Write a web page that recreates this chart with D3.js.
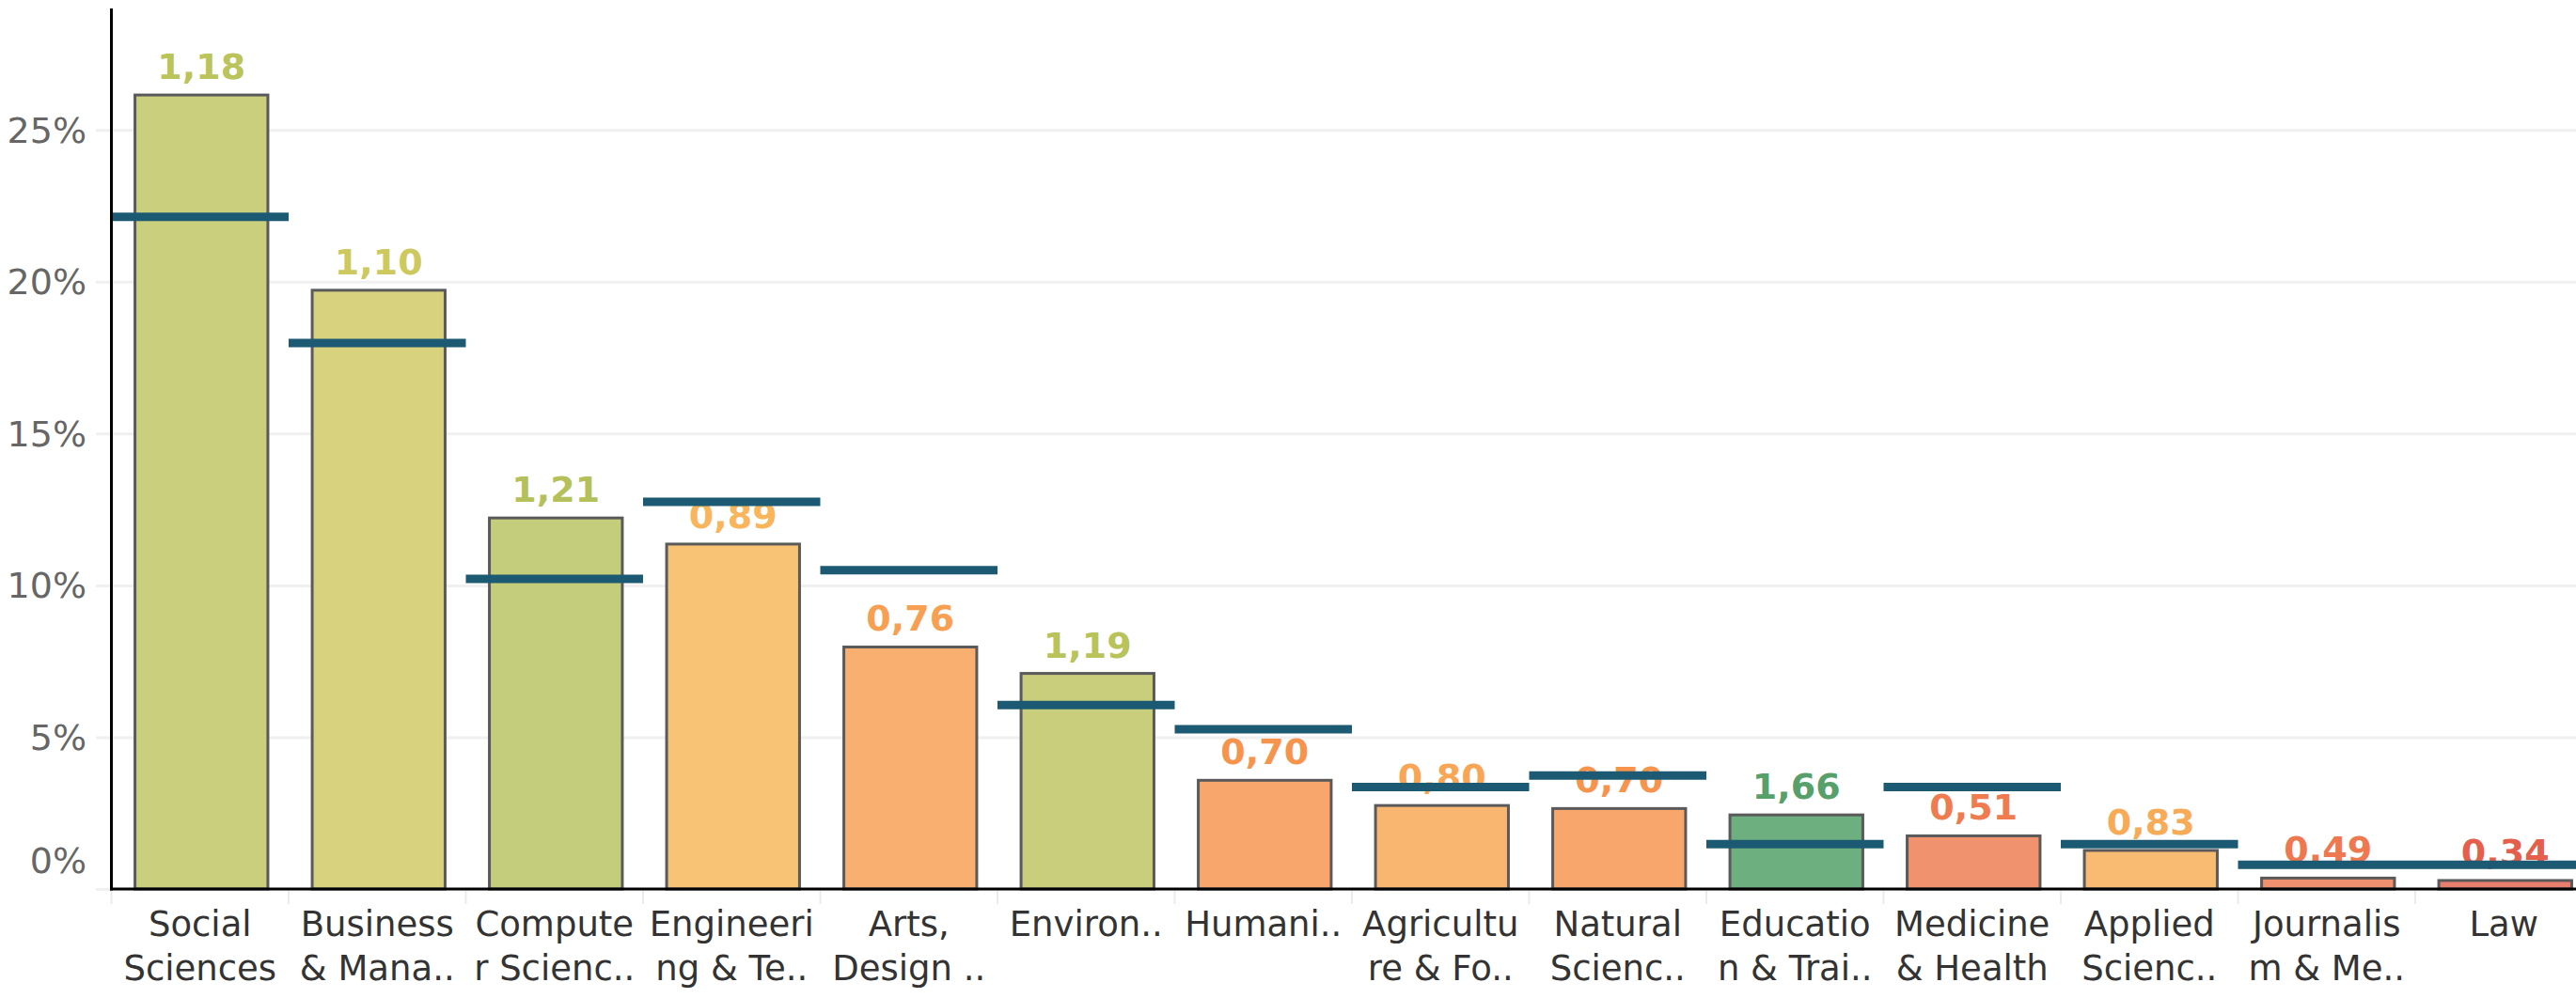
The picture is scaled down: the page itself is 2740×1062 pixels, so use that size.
<!DOCTYPE html>
<html>
<head>
<meta charset="utf-8">
<script src="https://cdn.jsdelivr.net/npm/d3@7"></script>
<style>
  html, body { margin: 0; padding: 0; background: #fff; }
  svg { display: block; font-family: "DejaVu Sans", Verdana, sans-serif; }
</style>
</head>
<body>
<svg id="chart"></svg>
<script>
// categories in the order they are drawn (sorted by share)
var categories = ["Social Sciences", "Business & Management", "Computer Science", "Engineering & Technology",
  "Arts, Design & Architecture", "Environmental Sciences", "Humanities", "Agriculture & Forestry",
  "Natural Sciences", "Education & Training", "Medicine & Health", "Applied Sciences",
  "Journalism & Media", "Law"];
// what the axis actually shows under each bar (truncated, two lines)
var tickLabels = [["Social", "Sciences"], ["Business", "& Mana.."], ["Compute", "r Scienc.."], ["Engineeri", "ng & Te.."],
  ["Arts,", "Design .."], ["Environ.."], ["Humani.."], ["Agricultu", "re & Fo.."],
  ["Natural", "Scienc.."], ["Educatio", "n & Trai.."], ["Medicine", "& Health"], ["Applied", "Scienc.."],
  ["Journalis", "m & Me.."], ["Law"]];
// bar = share in %, benchmark = the dark reference line in %
var share = [26.15, 19.72, 12.22, 11.36, 7.97, 7.10, 3.58, 2.75, 2.65, 2.44, 1.75, 1.27, 0.36, 0.28];
var benchmark = [22.14, 17.98, 10.21, 12.75, 10.50, 6.06, 5.26, 3.36, 3.74, 1.48, 3.36, 1.48, 0.80, 0.80];
// index printed above each bar
var ratio = [1.18, 1.10, 1.21, 0.89, 0.76, 1.19, 0.70, 0.80, 0.70, 1.66, 0.51, 0.83, 0.49, 0.34];
var yTicks = [0, 5, 10, 15, 20, 25];

var W = 2740, H = 1062;
// note: "top" is taken by window.top, so plotTop
var plotLeft = 118.5, axisY = 946, plotTop = 9;

var svg = d3.select("#chart").attr("width", W).attr("height", H);

var data = categories.map(function(c, i) {
  return { cat: c, lines: tickLabels[i], value: share[i], bench: benchmark[i], ratio: ratio[i] };
});

// the chart runs past the right edge, so the last band is cut a bit
var xBand = d3.scaleBand().domain(categories).range([plotLeft, plotLeft + 188.5 * 14]).padding(0);
// bars sit a hair right of the band centre in the original
var xBar = d3.scaleBand().domain(categories).range([plotLeft + 1.5, plotLeft + 1.5 + 188.5 * 14])
  .paddingInner(0.25).paddingOuter(0.125);
var y = d3.scaleLinear().domain([0, 29]).range([axisY, plotTop]);

var barColor = d3.scaleLinear()
  .domain([0.34, 0.5, 0.7, 0.9, 1.0, 1.1, 1.2, 1.66])
  .range(["#e87e6e", "#f1916f", "#f8a66c", "#f9c575", "#ecd47d", "#d8d27f", "#c6ce7c", "#6daf7e"]);
var labelColor = d3.scaleLinear()
  .domain([0.34, 0.5, 0.7, 0.9, 1.0, 1.1, 1.2, 1.66])
  .range(["#e45f4c", "#ef7a50", "#f6944e", "#f9b75c", "#e6cf5a", "#cdc95e", "#b6c25a", "#58a06a"]);

var fmt = d3.formatLocale({ decimal: ",", thousands: ".", grouping: [3], currency: ["", ""] }).format(".2f");

// gridlines
var grid = svg.append("g")
  .attr("class", "grid")
  .attr("transform", "translate(102,0)")
  .call(d3.axisRight(y).tickValues(yTicks).tickSize(W - 102).tickFormat(""));
grid.select(".domain").remove();
grid.selectAll("line").attr("stroke", "#f0f0f0").attr("stroke-width", 3);

// y labels
var yAxis = svg.append("g")
  .attr("transform", "translate(92,0)")
  .call(d3.axisLeft(y).tickValues(yTicks).tickSize(0).tickPadding(0).tickFormat(function(d) { return d + "%"; }));
yAxis.select(".domain").remove();
yAxis.selectAll("text")
  .attr("font-family", "DejaVu Sans")
  .attr("font-size", 38)
  .attr("fill", "#666")
  .attr("dy", function(d) { return d === 0 ? "-0.45em" : "0.34em"; });

// band separators under the x axis
svg.append("g").selectAll("line")
  .data(categories)
  .enter().append("line")
  .attr("x1", function(d) { return xBand(d); })
  .attr("x2", function(d) { return xBand(d); })
  .attr("y1", axisY)
  .attr("y2", axisY + 16)
  .attr("stroke", "#ebebeb")
  .attr("stroke-width", 2);

// bars
svg.append("g").selectAll("rect")
  .data(data)
  .enter().append("rect")
  .attr("x", function(d) { return xBar(d.cat); })
  .attr("y", function(d) { return y(d.value); })
  .attr("width", xBar.bandwidth())
  .attr("height", function(d) { return axisY - y(d.value); })
  .attr("fill", function(d) { return barColor(d.ratio); })
  .attr("stroke", "#5a5a5a")
  .attr("stroke-width", 3);

// ratio labels
svg.append("g").selectAll("text")
  .data(data)
  .enter().append("text")
  .attr("x", function(d) { return xBar(d.cat) + xBar.bandwidth() / 2; })
  .attr("y", function(d) { return y(d.value) - 17; })
  .attr("text-anchor", "middle")
  .attr("font-family", "DejaVu Sans")
  .attr("font-weight", "bold")
  .attr("font-size", 38)
  .attr("fill", function(d) { return labelColor(d.ratio); })
  .text(function(d) { return fmt(d.ratio); });

// benchmark lines, drawn over the labels like in the original
svg.append("g").selectAll("line")
  .data(data)
  .enter().append("line")
  .attr("x1", function(d) { return xBand(d.cat); })
  .attr("x2", function(d) { return xBand(d.cat) + xBand.bandwidth(); })
  .attr("y1", function(d) { return y(d.bench); })
  .attr("y2", function(d) { return y(d.bench); })
  .attr("stroke", "#1c5a73")
  .attr("stroke-width", 9);

// axis lines
svg.append("line")
  .attr("x1", plotLeft).attr("x2", plotLeft)
  .attr("y1", y.range()[1]).attr("y2", axisY + 1.5)
  .attr("stroke", "#000").attr("stroke-width", 3);
svg.append("line")
  .attr("x1", plotLeft - 1.5).attr("x2", W)
  .attr("y1", axisY).attr("y2", axisY)
  .attr("stroke", "#000").attr("stroke-width", 3);

// category labels
var cat = svg.append("g").selectAll("text")
  .data(data)
  .enter().append("text")
  .attr("text-anchor", "middle")
  .attr("font-family", "DejaVu Sans")
  .attr("font-size", 37)
  .attr("fill", "#333");
cat.selectAll("tspan")
  .data(function(d) { return d.lines.map(function(l) { return { cat: d.cat, text: l }; }); })
  .enter().append("tspan")
  .attr("x", function(d) { return xBand(d.cat) + xBand.bandwidth() / 2; })
  .attr("y", function(d, i) { return 996 + i * 47; })
  .text(function(d) { return d.text; });
</script>
</body>
</html>
